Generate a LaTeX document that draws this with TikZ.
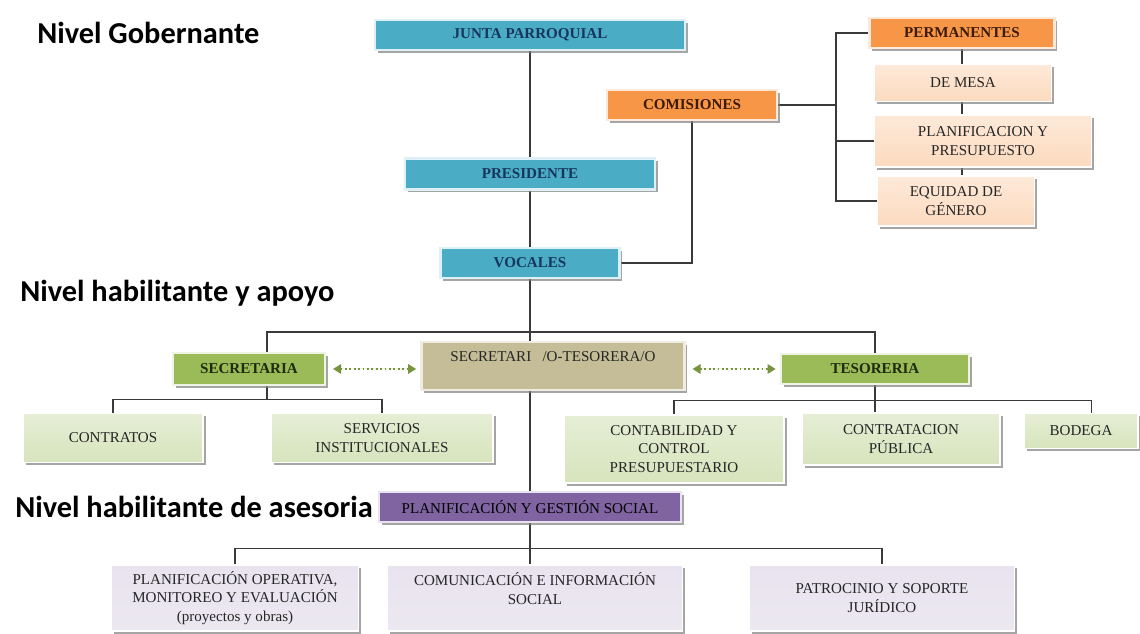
\documentclass[tikz,border=0pt]{standalone}
\usepackage{fontspec}
\setmainfont{Liberation Serif}
\newfontfamily\headfont{Carlito}
\usetikzlibrary{arrows.meta,shadows,backgrounds,calc}

\definecolor{blufill}{HTML}{4BACC6}
\definecolor{bluedge}{HTML}{DDF0F6}
\definecolor{blutext}{HTML}{17365D}
\definecolor{orgfill}{HTML}{F79646}
\definecolor{orgedge}{HTML}{FDE9D9}
\definecolor{orgtext}{HTML}{3B1A07}
\definecolor{grnfill}{HTML}{9BBB59}
\definecolor{grnedge}{HTML}{EEF4E3}
\definecolor{grntext}{HTML}{1E2B0C}
\definecolor{tanfill}{HTML}{C4BD97}
\definecolor{tanedge}{HTML}{EEECE1}
\definecolor{purfill}{HTML}{8064A2}
\definecolor{puredge}{HTML}{E9E3F0}
\definecolor{subtext}{HTML}{262626}
\definecolor{linkgray}{HTML}{3A3A3A}
\definecolor{olive}{HTML}{77933C}

\tikzset{
  wh/.style 2 args={minimum width=#1*0.75pt, minimum height=#2*0.75pt},
  box/.style={rectangle, align=center, inner sep=1pt,
    font=\fontsize{11.3}{14}\selectfont,
    drop shadow={shadow xshift=2pt, shadow yshift=-2pt, fill=black!50, opacity=.7}},
  bold/.style={font=\fontsize{11.3}{14}\selectfont\bfseries},
  blubox/.style={box, bold, fill=blufill, draw=bluedge, line width=2pt, text=blutext},
  orgbox/.style={box, bold, fill=orgfill, draw=orgedge, line width=2pt, text=orgtext},
  grnbox/.style={box, bold, fill=grnfill, draw=grnedge, line width=2pt, text=grntext},
  tanbox/.style={box, fill=tanfill, draw=tanedge, line width=2pt, text=subtext,
    inner ysep=0pt, text height=15pt, text depth=21pt},
  purbox/.style={box, fill=purfill, draw=puredge, line width=2pt, text=black},
  orgsub/.style={box, draw=white, line width=1pt, text=subtext,
    top color=orgedge, middle color=orgedge!40, bottom color=orgfill!35},
  grnsub/.style={box, draw=white, line width=1pt, text=subtext,
    top color=grnfill!25, middle color=grnedge!50, bottom color=grnfill!40},
  pursub/.style={box, draw=white, line width=1pt, text=subtext,
    top color=purfill!18, middle color=white, bottom color=purfill!15},
  level/.style={anchor=west, inner sep=0pt,
    font=\headfont\bfseries\fontsize{22.8}{26}\selectfont},
  link/.style={draw=linkgray, line width=1.1pt},
  dotarr/.style={draw=olive, fill=olive, line width=1.3pt, dotted,
    {Triangle[length=6pt,width=7pt]}-{Triangle[length=6pt,width=7pt]},
    shorten <=5pt, shorten >=3pt}
}

\begin{document}
\begin{tikzpicture}[x=0.75pt,y=-0.75pt]
\useasboundingbox (0,0) rectangle (1140,634);

% niveles
\node[level] (hgob) at (37,33) {Nivel Gobernante};
\node[level] (hapoyo) at (20,293) {Nivel habilitante y apoyo};
\node[level] (hases) at (15,507) {Nivel habilitante de asesoria};

% nivel gobernante
\node[blubox, wh={310}{30}] (junta) at (530,35) {JUNTA PARROQUIAL};
\node[blubox, wh={250}{31}] (presidente) at (530,174) {PRESIDENTE};
\node[blubox, wh={179}{30}] (vocales) at (530,263) {VOCALES};
\node[orgbox, wh={170}{30}] (comisiones) at (692,105) {COMISIONES};
\node[orgbox, wh={185}{30}] (permanentes) at (962,33) {PERMANENTES};
\node[orgsub, wh={177}{37}] (demesa) at (963,83) {DE MESA};
\node[orgsub, wh={217}{52}] (planpres) at (983,141) {PLANIFICACION Y\\PRESUPUESTO};
\node[orgsub, wh={157}{50}] (equidad) at (956,201) {EQUIDAD DE\\GÉNERO};

% nivel habilitante y apoyo
\node[grnbox, wh={152}{32}] (secretaria) at (249,369) {SECRETARIA};
\node[tanbox, minimum width=263*0.75pt] (sectes) at (553,366) {SECRETARI\ \ \ /O-TESORERA/O};
\node[grnbox, wh={188}{30}] (tesoreria) at (875,369) {TESORERIA};
\node[grnsub, wh={180}{49}] (contratos) at (113,438) {CONTRATOS};
\node[grnsub, wh={222}{49}] (servicios) at (382,438) {SERVICIOS\\INSTITUCIONALES};
\node[grnsub, wh={220}{68}] (contab) at (674,449) {CONTABILIDAD Y\\CONTROL\\PRESUPUESTARIO};
\node[grnsub, wh={198}{52}] (contrat) at (901,439) {CONTRATACION\\PÚBLICA};
\node[grnsub, wh={114}{35}] (bodega) at (1081,431) {BODEGA};

% nivel de asesoria
\node[purbox, wh={302}{30}] (planges) at (530,507) {PLANIFICACIÓN Y GESTIÓN SOCIAL};
\node[pursub, wh={247}{66}] (planop) at (235,598) {PLANIFICACIÓN OPERATIVA,\\MONITOREO Y EVALUACIÓN\\(proyectos y obras)};
\node[pursub, wh={295}{66}] (comunic) at (535,598) {COMUNICACIÓN E INFORMACIÓN\\SOCIAL\\\mbox{}};
\node[pursub, wh={265}{66}] (patroc) at (882,598) {PATROCINIO Y SOPORTE\\JURÍDICO};

% conectores
\begin{scope}[on background layer]
  \fill[white] (0,0) rectangle (1140,634);
  \draw[link] (junta) -- (presidente);
  \draw[link] (presidente) -- (vocales);
  \draw[link] (vocales) -- (planges);
  \draw[link] (vocales.east) -| (comisiones.south);
  \coordinate (cbus) at (836,0);
  \draw[link] (comisiones.east) -- (comisiones.east -| cbus);
  \draw[link] (permanentes.west) -| (cbus |- equidad.west) -- (equidad.west);
  \draw[link] (planpres.west) -- (planpres.west -| cbus);
  \draw[link] (permanentes.south) -- (permanentes.south |- equidad.north);
  \coordinate (abusL) at (267,332);
  \coordinate (abusR) at (875,332);
  \draw[link] (secretaria.north -| abusL) |- (abusR) -- (tesoreria.north);
  \draw[link] (secretaria.south -| abusL) -- ++(0,13) coordinate (sbus);
  \draw[link] (contratos.north) |- (sbus) -| (servicios.north);
  \draw[link] (tesoreria.south) -- ++(0,15) coordinate (tbus);
  \draw[link] (contab.north) |- (tbus) -| ([xshift=8pt]bodega.north);
  \draw[link] (tbus) -- (tbus |- contrat.north);
  \draw[link] (planges.south) -- ++(0,25) coordinate (pbus);
  \draw[link] (planop.north) |- (pbus) -| (patroc.north);
  \draw[link] (pbus) -- (pbus |- comunic.north);
\end{scope}

% flechas punteadas
\draw[dotarr] (secretaria.east) -- (secretaria.east -| sectes.west);
\draw[dotarr] (tesoreria.west -| sectes.east) -- (tesoreria.west);
\end{tikzpicture}
\end{document}
